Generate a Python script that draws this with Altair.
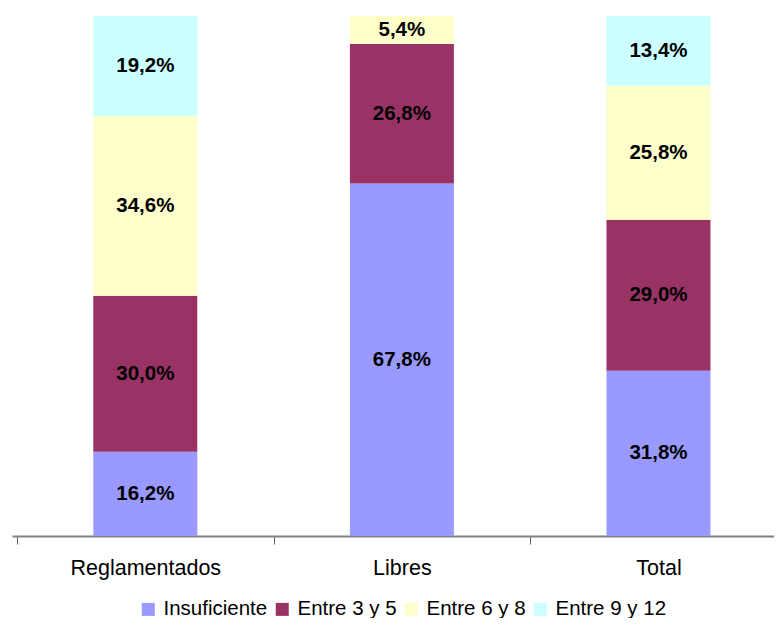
import altair as alt
import pandas as pd

categorias = ["Reglamentados", "Libres", "Total"]
series = ["Insuficiente", "Entre 3 y 5", "Entre 6 y 8", "Entre 9 y 12"]
colores = ["#9999FF", "#993366", "#FFFFCC", "#CCFFFF"]

insuficiente = [16.2, 67.8, 31.8]
entre_3_5 = [30.0, 26.8, 29.0]
entre_6_8 = [34.6, 5.4, 25.8]
entre_9_12 = [19.2, 0.0, 13.4]

valores = [insuficiente, entre_3_5, entre_6_8, entre_9_12]
rows = []
for i, s in enumerate(series):
    for j, c in enumerate(categorias):
        v = valores[i][j]
        if v > 0:
            rows.append({"cat": c, "pos": j + 0.5, "serie": s, "orden": i,
                         "valor": v,
                         "etiqueta": f"{v:.1f}%".replace(".", ",")})
df = pd.DataFrame(rows)

FONT = "Liberation Sans"
W = 762          # plot width visible in the window
STEP = 260       # width of each category slot

label_expr = " : ".join(
    f"datum.value === {j + 0.5} ? '{c}'" for j, c in enumerate(categorias)
) + " : ''"

tick_vals = []
for j in range(len(categorias)):
    tick_vals += [j, j + 0.5]

xenc = alt.X("pos:Q", title=None,
             scale=alt.Scale(domain=[0, W / STEP], nice=False, zero=False),
             axis=alt.Axis(values=tick_vals, labelExpr=label_expr,
                           labelAngle=0, labelFlush=False, labelOverlap=False,
                           tickSize=8, labelPadding=13, labelFontSize=21.5,
                           labelFont=FONT, labelColor="black",
                           domainColor="#808080", domainWidth=2,
                           tickColor="#606060", tickWidth=1,
                           tickOpacity={"condition": {"test": "datum.value % 1 === 0",
                                                      "value": 1}, "value": 0},
                           grid=False))

bars = alt.Chart(df).mark_bar(size=104).encode(
    x=xenc,
    y=alt.Y("valor:Q", stack="zero", scale=alt.Scale(domain=[0, 100]), axis=None),
    color=alt.Color("serie:N", scale=alt.Scale(domain=series, range=colores),
                    legend=alt.Legend(orient="none", legendX=126, legendY=583,
                                      direction="horizontal", title=None,
                                      symbolType="square", symbolSize=169,
                                      symbolStrokeWidth=0, labelFontSize=20.5,
                                      labelFont=FONT, labelColor="black",
                                      labelOffset=5, columnPadding=4,
                                      padding=0)),
    order=alt.Order("orden:Q"),
)

texts = alt.Chart(df).transform_stack(
    stack="valor", groupby=["cat"], sort=[alt.SortField("orden")], as_=["y0", "y1"]
).transform_calculate(mid="(datum.y0 + datum.y1) / 2").mark_text(
    fontSize=20.5, fontWeight="bold", font=FONT, color="black", baseline="middle"
).encode(
    x=alt.X("pos:Q"),
    y=alt.Y("mid:Q"),
    text="etiqueta:N",
)

chart = alt.layer(bars, texts).properties(
    width=W, height=520,
    autosize=alt.AutoSizeParams(type="none"),
    padding={"left": 4, "top": 8, "right": 0, "bottom": 82},
).configure_view(stroke=None)

chart.save("out.html", embed_options={"renderer": "svg", "actions": False})
